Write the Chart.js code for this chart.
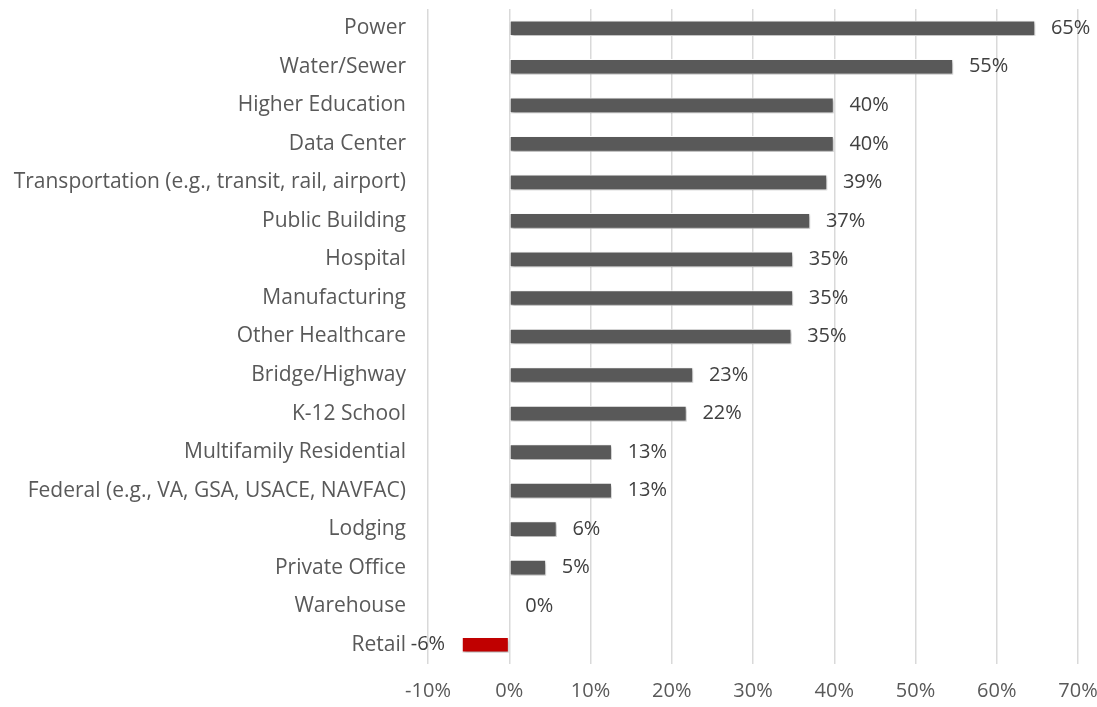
<!DOCTYPE html>
<html>
<head>
<meta charset="utf-8">
<script src="https://cdn.jsdelivr.net/npm/chart.js@4"></script>
<style>
  html, body { margin: 0; padding: 0; background: #fff; overflow: hidden; }
  #wrap { width: 1097px; height: 707px; }
</style>
</head>
<body>
<div id="wrap"><canvas id="myChart"></canvas></div>
<script>
// data (fractions)
const categories = [
  'Power',
  'Water/Sewer',
  'Higher Education',
  'Data Center',
  'Transportation (e.g., transit, rail, airport)',
  'Public Building',
  'Hospital',
  'Manufacturing',
  'Other Healthcare',
  'Bridge/Highway',
  'K-12 School',
  'Multifamily Residential',
  'Federal (e.g., VA, GSA, USACE, NAVFAC)',
  'Lodging',
  'Private Office',
  'Warehouse',
  'Retail'
];
const values = [0.647, 0.546, 0.399, 0.399, 0.391, 0.370, 0.349, 0.349, 0.347, 0.226, 0.218, 0.126, 0.126, 0.058, 0.045, 0, -0.058];
const xTicks = [-0.1, 0, 0.1, 0.2, 0.3, 0.4, 0.5, 0.6, 0.7];

const barColors = values.map(v => v < 0 ? '#C00000' : '#595959');
const FONT = '"Open Sans", "DejaVu Sans", sans-serif';

// soft drop shadow under bars
const barShadow = {
  id: 'barShadow',
  beforeDatasetDraw(chart) {
    const ctx = chart.ctx;
    ctx.save();
    ctx.shadowColor = 'rgba(0,0,0,0.35)';
    ctx.shadowBlur = 3;
    ctx.shadowOffsetX = 1;
    ctx.shadowOffsetY = 2;
  },
  afterDatasetDraw(chart) {
    chart.ctx.restore();
  }
};

// value labels at the bar ends
const valueLabels = {
  id: 'valueLabels',
  afterDatasetsDraw(chart) {
    const ctx = chart.ctx;
    const meta = chart.getDatasetMeta(0);
    ctx.save();
    ctx.font = '20px ' + FONT;
    ctx.fillStyle = '#404040';
    ctx.textBaseline = 'middle';
    meta.data.forEach((bar, i) => {
      const v = values[i];
      const txt = Math.round(v * 100) + '%';
      if (v < 0) {
        ctx.textAlign = 'right';
        ctx.fillText(txt, bar.x - 17, bar.y);
      } else {
        ctx.textAlign = 'left';
        ctx.fillText(txt, bar.x + 16, bar.y);
      }
    });
    ctx.restore();
  }
};

const data = {
  labels: categories,
  datasets: [{
    data: values,
    backgroundColor: barColors,
    borderColor: '#ffffff',
    borderWidth: 1,
    borderSkipped: false,
    barThickness: 15
  }]
};

const config = {
  type: 'bar',
  data: data,
  options: {
    indexAxis: 'y',
    responsive: true,
    maintainAspectRatio: false,
    animation: false,
    layout: { padding: { left: 0, right: 19, top: 9, bottom: 0 } },
    plugins: {
      legend: { display: false },
      tooltip: { enabled: false }
    },
    scales: {
      x: {
        min: -0.1,
        max: 0.7,
        afterBuildTicks(scale) {
          scale.ticks = xTicks.map(v => ({ value: v }));
        },
        afterFit(scale) {
          scale.height = 43;
          scale.paddingLeft = 0;
          scale.paddingRight = 0;
        },
        grid: { color: '#d9d9d9', lineWidth: 1.5, drawTicks: false },
        border: { display: false },
        ticks: {
          padding: 15,
          color: '#595959',
          font: { family: FONT, size: 20 },
          callback: v => Math.round(v * 100) + '%'
        }
      },
      y: {
        afterFit(scale) {
          scale.width = 428;
          scale.paddingTop = 0;
          scale.paddingBottom = 0;
        },
        grid: { display: false, drawTicks: false },
        border: { display: false },
        ticks: {
          padding: 22,
          color: '#595959',
          font: { family: FONT, size: 21 }
        }
      }
    }
  },
  plugins: [barShadow, valueLabels]
};

const myChart = new Chart(
  document.getElementById('myChart'),
  config
);
</script>
</body>
</html>
